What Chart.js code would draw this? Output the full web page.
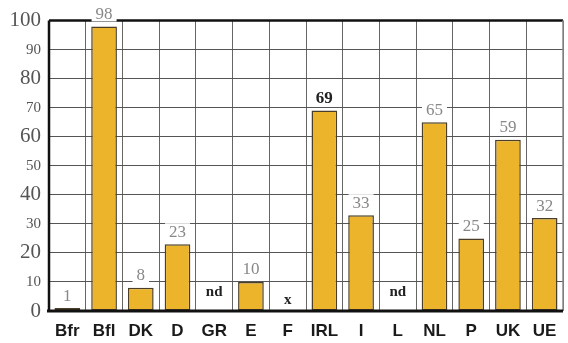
<!DOCTYPE html>
<html>
<head>
<meta charset="utf-8">
<script src="https://cdn.jsdelivr.net/npm/chart.js@4"></script>
<style>
  html, body { margin: 0; padding: 0; background: #fff; }
  #wrap { width: 568px; height: 343px; }
</style>
</head>
<body>
<div id="wrap"><canvas id="c"></canvas></div>
<script>
// country codes along the x axis
const countries = ['Bfr', 'Bfl', 'DK', 'D', 'GR', 'E', 'F', 'IRL', 'I', 'L', 'NL', 'P', 'UK', 'UE'];
// bar heights (null = no bar drawn)
const values = [1, 98, 8, 23, null, 10, null, 69, 33, null, 65, 25, 59, 32];
// text printed above each column
const valueLabels = ['1', '98', '8', '23', 'nd', '10', 'x', '69', '33', 'nd', '65', '25', '59', '32'];
const yTicks = [0, 10, 20, 30, 40, 50, 60, 70, 80, 90, 100];

// value labels with a white knock-out behind them, like the printed chart
const barLabels = {
  id: 'barLabels',
  afterDatasetsDraw(chart) {
    const ctx = chart.ctx;
    const x = chart.scales.x, y = chart.scales.y;
    ctx.save();
    ctx.textAlign = 'center';
    ctx.textBaseline = 'middle';
    valueLabels.forEach((txt, i) => {
      const v = values[i];
      const cx = x.getPixelForValue(i);
      let cy, font, color;
      if (v === null) {
        cy = y.getPixelForValue(0) - (txt === 'x' ? 12 : 20);
        font = 'bold 15px "Liberation Serif", serif';
        color = '#222';
      } else {
        cy = y.getPixelForValue(v) - 13;
        const bold = txt === '69';
        font = (bold ? 'bold ' : '') + '17px "Liberation Serif", serif';
        color = bold ? '#222' : '#888';
      }
      ctx.font = font;
      const w = ctx.measureText(txt).width;
      ctx.fillStyle = '#fff';
      ctx.fillRect(cx - w / 2 - 4, cy - 8, w + 8, 16);
      ctx.fillStyle = color;
      ctx.fillText(txt, cx, cy + 1);
    });
    ctx.restore();
  }
};

// heavy frame on top, left and bottom; thinner gray at right
const frame = {
  id: 'frame',
  afterDraw(chart) {
    const a = chart.chartArea, ctx = chart.ctx;
    ctx.save();
    ctx.strokeStyle = '#888';
    ctx.lineWidth = 1.5;
    ctx.beginPath();
    ctx.moveTo(a.right, a.top);
    ctx.lineTo(a.right, a.bottom);
    ctx.stroke();
    ctx.strokeStyle = '#111';
    ctx.lineWidth = 2.5;
    ctx.beginPath();
    ctx.moveTo(a.left, a.top);
    ctx.lineTo(a.left, a.bottom);
    ctx.stroke();
    ctx.lineWidth = 3;
    ctx.beginPath();
    ctx.moveTo(a.left - 2, a.bottom);
    ctx.lineTo(a.right, a.bottom);
    ctx.stroke();
    ctx.restore();
  },
  beforeDatasetsDraw(chart) {
    // top border drawn under the labels so the knock-out breaks it
    const a = chart.chartArea, ctx = chart.ctx;
    ctx.save();
    ctx.strokeStyle = '#111';
    ctx.lineWidth = 2.5;
    ctx.beginPath();
    ctx.moveTo(a.left, a.top);
    ctx.lineTo(a.right, a.top);
    ctx.stroke();
    ctx.restore();
  }
};

new Chart(document.getElementById('c'), {
  type: 'bar',
  data: {
    labels: countries,
    datasets: [{
      data: values,
      backgroundColor: '#ecb42a',
      borderColor: '#4a3e28',
      borderWidth: 1.5,
      borderSkipped: false,
      barPercentage: 0.7,
      categoryPercentage: 1
    }]
  },
  options: {
    animation: false,
    responsive: true,
    maintainAspectRatio: false,
    layout: { padding: { top: 19, right: 5, bottom: 0, left: 0 } },
    plugins: { legend: { display: false }, tooltip: { enabled: false } },
    scales: {
      x: {
        afterFit(s) { s.height = 32; },
        grid: { color: '#666', lineWidth: 1, offset: true, drawTicks: false },
        border: { display: false },
        ticks: {
          color: '#1a1a1a',
          padding: 10,
          font: { family: '"Liberation Sans", Arial, sans-serif', size: 17, weight: 'bold' }
        }
      },
      y: {
        min: 0,
        max: 100,
        afterFit(s) { s.width = 49; },
        afterBuildTicks(s) { s.ticks = yTicks.map(v => ({ value: v })); },
        grid: { color: '#555', lineWidth: 1, drawTicks: false },
        border: { display: false },
        ticks: {
          color: '#555',
          padding: 8,
          font: ctx => ({
            family: '"Liberation Serif", "Times New Roman", serif',
            size: ctx.tick && ctx.tick.value % 20 === 0 ? 21 : 15
          })
        }
      }
    }
  },
  plugins: [frame, barLabels]
});
</script>
</body>
</html>
